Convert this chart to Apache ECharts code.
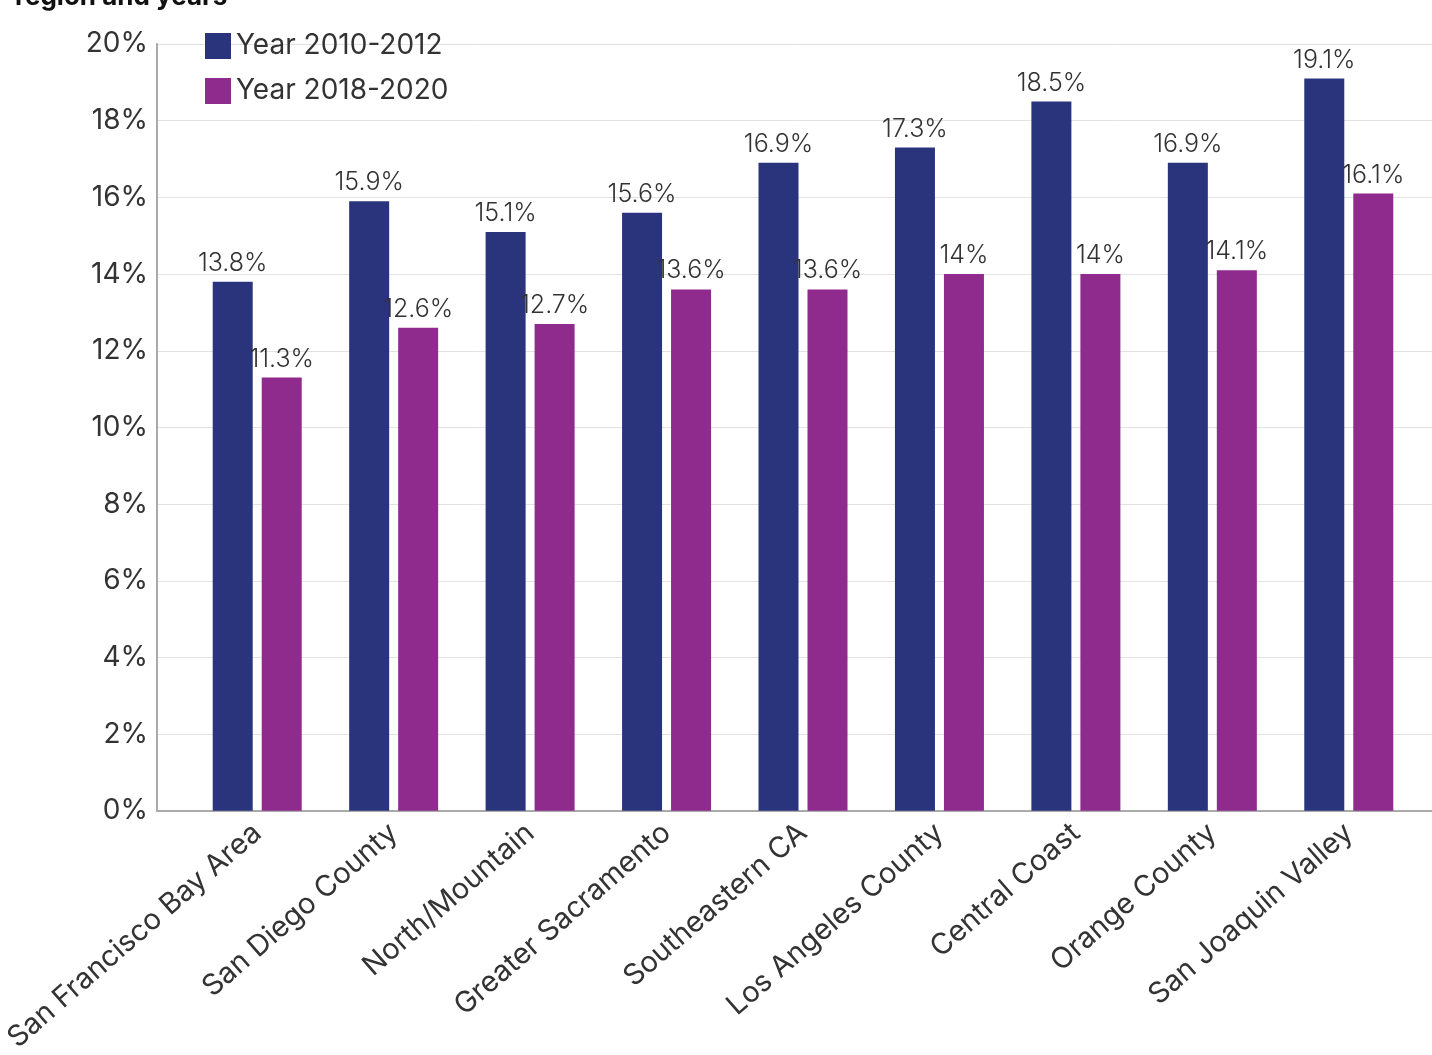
<!DOCTYPE html>
<html lang="en">

<head>
    <title>Region and years</title>
    <meta charset="UTF-8">
    <style type="text/css">
        html,
        body {
            margin: 0px;
            width: 100%;
            height: 100%;
            background: #fff;
        }
    </style>
    <script type="text/javascript" src="https://cdn.jsdelivr.net/npm/echarts@6/dist/echarts.min.js"></script>
</head>

<body>
    <div id="chart" style="width: 1432px; height: 1055px;"></div>
</body>

<script type="text/javascript">
    var regions = ['San Francisco Bay Area', 'San Diego County', 'North/Mountain', 'Greater Sacramento',
        'Southeastern CA', 'Los Angeles County', 'Central Coast', 'Orange County', 'San Joaquin Valley'];
    var seriesNames = ['Year 2010-2012', 'Year 2018-2020'];
    var early = [13.8, 15.9, 15.1, 15.6, 16.9, 17.3, 18.5, 16.9, 19.1];
    var late = [11.3, 12.6, 12.7, 13.6, 13.6, 14, 14, 14.1, 16.1];
    var colors = ['#2a347c', '#8e2b8d'];

    var font = 'Inter, "Noto Sans", sans-serif';

    function pct(p) {
        return p.value + '%';
    }

    var chart = echarts.init(document.getElementById('chart'));
    var options = {
        animation: false,
        textStyle: { fontFamily: font },
        title: {
            text: 'region and years',
            left: 10,
            top: -21,
            textStyle: { fontSize: 26, fontWeight: 'bold', color: '#111', fontFamily: font }
        },
        legend: {
            orient: 'vertical',
            left: 200,
            top: 27,
            itemWidth: 26,
            itemHeight: 26,
            itemGap: 17,
            icon: 'rect',
            textStyle: { fontSize: 28, color: '#333', fontFamily: font },
            data: seriesNames
        },
        grid: [
            // axes frame
            { left: 157, right: 0, top: 44, bottom: 244 },
            // bars
            { left: 189, right: 15, top: 44, bottom: 244 }
        ],
        xAxis: [
            {
                gridIndex: 0,
                type: 'category',
                data: [''],
                axisLine: { lineStyle: { color: '#aaa', width: 2 } },
                axisTick: { show: false },
                axisLabel: { show: false }
            },
            {
                gridIndex: 1,
                type: 'category',
                data: regions,
                axisLine: { show: false },
                axisTick: { show: false },
                axisLabel: {
                    rotate: 41,
                    margin: 18,
                    fontSize: 29,
                    color: '#333',
                    fontFamily: font
                }
            }
        ],
        yAxis: [
            {
                gridIndex: 0,
                type: 'value',
                min: 0,
                max: 20,
                interval: 2,
                axisLine: { show: true, lineStyle: { color: '#aaa', width: 2 } },
                axisTick: { show: false },
                axisLabel: {
                    formatter: '{value}%',
                    fontSize: 28,
                    color: '#333',
                    margin: 9,
                    fontFamily: font
                },
                splitLine: { lineStyle: { color: '#e2e2e2', width: 1 } }
            },
            {
                gridIndex: 1,
                type: 'value',
                min: 0,
                max: 20,
                interval: 2,
                show: false,
                splitLine: { show: false }
            }
        ],
        series: [
            {
                name: seriesNames[0],
                type: 'bar',
                xAxisIndex: 1,
                yAxisIndex: 1,
                data: early,
                barWidth: 40,
                barGap: '22.5%',
                itemStyle: { color: colors[0] },
                label: {
                    show: true,
                    position: 'top',
                    distance: 6,
                    formatter: pct,
                    fontSize: 25,
                    fontWeight: 300,
                    color: '#333',
                    fontFamily: font
                }
            },
            {
                name: seriesNames[1],
                type: 'bar',
                xAxisIndex: 1,
                yAxisIndex: 1,
                data: late,
                barWidth: 40,
                itemStyle: { color: colors[1] },
                label: {
                    show: true,
                    position: 'top',
                    distance: 6,
                    formatter: pct,
                    fontSize: 25,
                    fontWeight: 300,
                    color: '#333',
                    fontFamily: font
                }
            }
        ]
    };
    chart.setOption(options);
</script>

</html>
